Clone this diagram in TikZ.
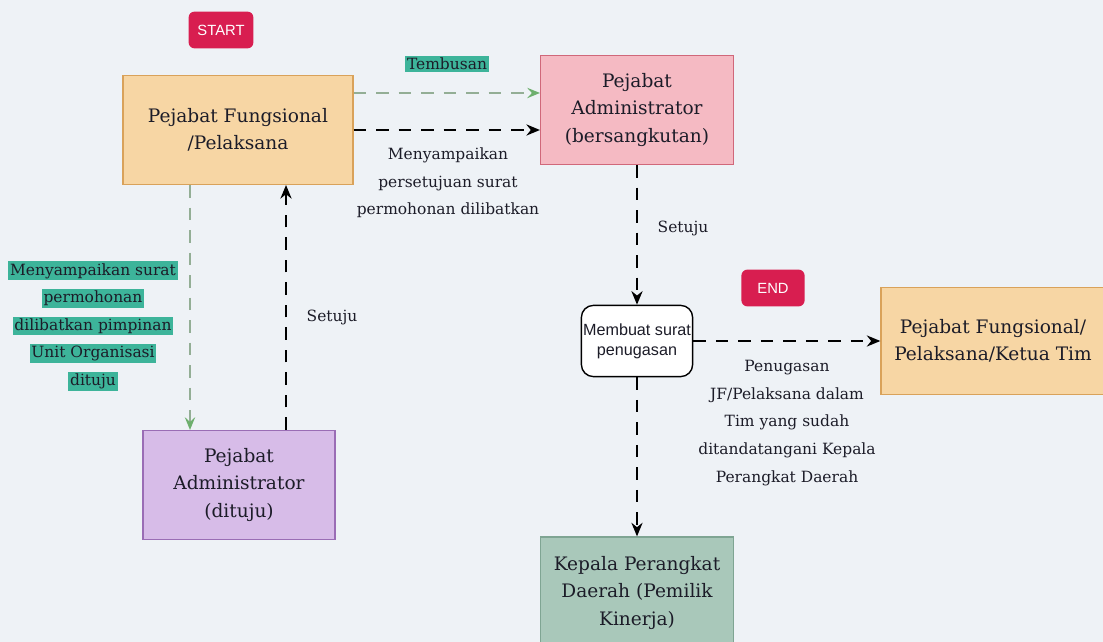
\documentclass[tikz,border=0pt]{standalone}
\usepackage{fontspec}
\setmainfont{DejaVu Serif}
\newfontfamily\sansfont{Liberation Sans}
\usepackage{xcolor}
\usetikzlibrary{shapes,arrows.meta,positioning}

\definecolor{bgcol}{HTML}{EEF2F6}
\definecolor{startred}{HTML}{D81E50}
\definecolor{orangefill}{HTML}{F7D6A4}
\definecolor{orangeline}{HTML}{D9A25A}
\definecolor{pinkfill}{HTML}{F5BAC3}
\definecolor{pinkline}{HTML}{D0687A}
\definecolor{lilacfill}{HTML}{D7BCE8}
\definecolor{lilacline}{HTML}{9A6DB5}
\definecolor{sagefill}{HTML}{A9C8BA}
\definecolor{sageline}{HTML}{7FA593}
\definecolor{tealhl}{HTML}{3DB49A}
\definecolor{greendash}{HTML}{93AE95}
\definecolor{greentip}{HTML}{6DAF6D}
\definecolor{inkcol}{HTML}{1C1C28}

\newcommand{\hlteal}[1]{{\setlength{\fboxsep}{1.3pt}\colorbox{tealhl}{#1}}}

\begin{document}
\begin{tikzpicture}[
			x=0.025cm, y=-0.025cm,
			every node/.style={text=inkcol},
			process/.style={rectangle, draw, line width=0.9pt, minimum height=2.72cm, align=center, text centered, font=\fontsize{13.2}{19.3}\selectfont},
			terminal/.style={rectangle, rounded corners=1.5mm, fill=startred, text=white, minimum height=0.92cm, font=\sansfont\fontsize{10.5}{12}\selectfont},
			task/.style={rectangle, rounded corners=3mm, draw=black, fill=white, line width=1pt, minimum width=2.78cm, minimum height=1.78cm, align=center, inner sep=1pt, font=\sansfont\fontsize{11.5}{14}\selectfont},
			note/.style={align=center, font=\fontsize{11}{19.7}\selectfont},
			arrow/.style={draw, black, line width=1.2pt, dash pattern=on 9pt off 7pt, -{Stealth[length=3.4mm,width=2.8mm]}},
			copyarrow/.style={draw, greendash, line width=1pt, dash pattern=on 9pt off 7pt, -{Stealth[length=3.2mm,width=2.6mm,inset=1.2mm,color=greentip,fill=greentip]}}
			]
			
			% latar
			\useasboundingbox[fill=bgcol] (0,0) rectangle (1103,642);
			
			% node utama
			\node (start) [terminal, minimum width=1.62cm] at (221,30) {START};
			\node (PF) [process, fill=orangefill, draw=orangeline, minimum width=5.75cm] at (238,130) {Pejabat Fungsional\\/Pelaksana};
			\node (PA) [process, fill=pinkfill, draw=pinkline, minimum width=4.82cm] at (637,110) {Pejabat\\Administrator\\(bersangkutan)};
			\node (PAD) [process, fill=lilacfill, draw=lilacline, minimum width=4.8cm] at (239,485) {Pejabat\\Administrator\\(dituju)};
			\node (MS) [task] at (637,341) {Membuat surat\\penugasan};
			\node (end) [terminal, minimum width=1.58cm] at (773,288) {END};
			\node (PF2) [process, fill=orangefill, draw=orangeline, minimum width=5.6cm, minimum height=2.68cm, inner sep=1pt] at (993,341) {Pejabat Fungsional/\\Pelaksana/Ketua Tim};
			\node (KPD) [process, fill=sagefill, draw=sageline, minimum width=4.82cm, minimum height=2.8cm] at (637,593) {Kepala Perangkat\\Daerah (Pemilik\\Kinerja)};
			
			% label
			\node (tembusan) [note, font=\fontsize{11}{12}\selectfont] at (447,64) {\hlteal{Tembusan}};
			\node (kirim) [note] at (448,183) {Menyampaikan\\persetujuan surat\\permohonan dilibatkan};
			\node (setuju1) [note] at (683,228) {Setuju};
			\node (setuju2) [note] at (332,317) {Setuju};
			\node (mohon) [note, font=\fontsize{11}{19.6}\selectfont] at (93,326) {\hlteal{Menyampaikan surat}\\\hlteal{permohonan}\\\hlteal{dilibatkan pimpinan}\\\hlteal{Unit Organisasi}\\\hlteal{dituju}};
			\node (tugas) [note] at (787,423) {Penugasan\\JF/Pelaksana dalam\\Tim yang sudah\\ditandatangani Kepala\\Perangkat Daerah};
			
			% panah
			\draw [copyarrow] ([yshift=0.925cm]PF.east) -- ([yshift=0.925cm]PF.east -| PA.west);
			\draw [arrow] (PF.east) -- (PF.east -| PA.west);
			\draw [copyarrow] ([xshift=-1.2cm]PF.south) -- ([xshift=-1.2cm]PF.south |- PAD.north);
			\draw [arrow] ([xshift=1.175cm]PAD.north) -- ([xshift=1.175cm]PAD.north |- PF.south);
			\draw [arrow] (PA) -- (MS);
			\draw [arrow] (MS.east) -- (MS.east -| PF2.west);
			\draw [arrow] (MS) -- (KPD);
			
		\end{tikzpicture}
\end{document}
